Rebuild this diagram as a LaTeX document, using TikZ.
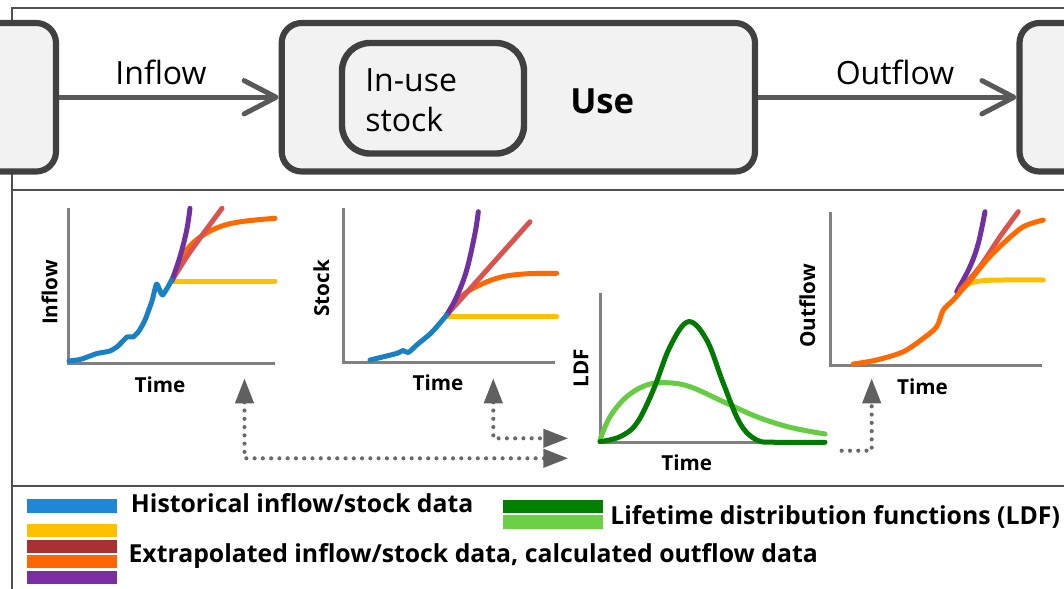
\documentclass[tikz,border=0pt]{standalone}
\usepackage{fontspec}
\setmainfont{Open Sans}
\usetikzlibrary{arrows.meta}
\definecolor{boxline}{HTML}{404040}
\definecolor{boxfill}{HTML}{F2F2F2}
\definecolor{flowgray}{HTML}{595959}
\definecolor{framegray}{HTML}{505050}
\definecolor{axisgray}{HTML}{808080}
\definecolor{dotgray}{HTML}{6A6A6A}
\definecolor{tipgray}{HTML}{606060}
\definecolor{cblue}{HTML}{1A80C4}
\definecolor{cyellow}{HTML}{FFC000}
\definecolor{cred}{HTML}{D9534F}
\definecolor{corange}{HTML}{FF6A00}
\definecolor{cpurple}{HTML}{7030A0}
\definecolor{cdgreen}{HTML}{007A00}
\definecolor{clgreen}{HTML}{66CC44}
\definecolor{lblue}{HTML}{1E88D6}
\definecolor{lred}{HTML}{A83232}
\definecolor{lorange}{HTML}{FF6600}
\definecolor{lpurple}{HTML}{7A2EA0}
\definecolor{ldgreen}{HTML}{008000}
\definecolor{llgreen}{HTML}{6CD044}
\begin{document}
\begin{tikzpicture}[x=0.75pt,y=-0.75pt,
  frame/.style={draw=framegray,line width=1.5pt},
  bigbox/.style={draw=boxline,fill=boxfill,line width=4.6pt,rounded corners=15pt,minimum height=111.4pt,inner sep=0pt},
  innerbox/.style={draw=boxline,fill=boxfill,line width=4.8pt,rounded corners=21pt,minimum width=136.5pt,minimum height=82.9pt,inner sep=0pt},
  flow/.style={draw=flowgray,line width=3.75pt,-{Straight Barb[length=24pt,width=25pt,line cap=round,line join=round]}},
  flowlabel/.style={font=\fontsize{24pt}{30pt}\selectfont,anchor=base,inner sep=0pt},
  axis/.style={draw=axisgray,line width=2.25pt},
  curve/.style={line width=3.75pt,line cap=round,line join=round},
  glabel/.style={font=\fontsize{15.5pt}{18pt}\selectfont\bfseries,anchor=base,inner sep=0pt},
  legtext/.style={font=\fontsize{18.6pt}{22pt}\selectfont\bfseries,anchor=base west,inner sep=0pt},
  dotarrow/.style={draw=dotgray,line width=3.1pt,line cap=round,dash pattern=on 0pt off 6.2pt,
    >={Triangle[length=18.75pt,width=13.5pt,color=tipgray]}}
]
\useasboundingbox (0,0) rectangle (1064,589);
\clip (0,0) rectangle (1064,589);
\fill[white] (0,0) rectangle (1064,589);

% frame
\draw[frame] (11.7,589) -- (11.7,8.3) -- (1064,8.3);
\draw[frame] (11.7,189.5) -- (1064,189.5);
\draw[frame] (11.7,486) -- (1064,486);

% top row
\node[bigbox,minimum width=117pt] (src) at (-22,97.25) {};
\node[bigbox,minimum width=355pt] (use) at (518.35,97.25) {};
\node[bigbox,minimum width=120.4pt] (sink) at (1099.75,97.25) {};
\node[innerbox] (stock) at (433,98.25) {};
\node[font=\fontsize{24pt}{30pt}\selectfont,align=left,anchor=west,inner sep=0pt] (stocktext) at (365,100) {In-use\\stock};
\node[font=\fontsize{26pt}{30pt}\selectfont\bfseries,anchor=base west,inner sep=0pt] (usetext) at (570,113) {Use};
\draw[flow] (src.east) -- (use.west);
\draw[flow] (use.east) -- (sink.west);
\node[flowlabel] (inflowlbl) at (161,84) {Inflow};
\node[flowlabel] (outflowlbl) at (895,84) {Outflow};

% graph 1: inflow
\draw[axis] (68,208.3) -- (68,363.3) -- (275,363.3);
\draw[curve,cyellow] (171.7,281) -- (275,281);
\draw[curve,corange] plot[smooth,tension=0.6] coordinates {(171.7,281) (186.7,250) (206.7,233) (233,223) (275,218.3)};
\draw[curve,cred] plot[smooth,tension=0.5] coordinates {(171.7,281) (190,252) (222,208.3)};
\draw[curve,cpurple] plot[smooth,tension=0.6] coordinates {(171.7,281) (180,256.7) (186.7,230) (190,208.3)};
\draw[curve,cblue] plot[smooth,tension=0.35] coordinates {(69,361) (80,359.5) (90,356) (97,353.5) (110,351) (118,346) (127,337) (133,337) (139,331) (145,320) (152,301) (156.7,284) (162.5,295) (171.7,280)};
\node[glabel,rotate=90] (g1y) at (57.3,292.5) {Inflow};
\node[glabel] (g1x) at (160,392.7) {Time};

% graph 2: stock
\draw[axis] (343.3,208.3) -- (343.3,362.7) -- (555,362.7);
\draw[curve,cyellow] (446.7,316.7) -- (556.7,316.7);
\draw[curve,corange] plot[smooth,tension=0.6] coordinates {(446.7,315) (456.7,301.7) (470,290) (496.7,278.3) (523.3,274) (556.7,273.3)};
\draw[curve,cred] (446.7,315) -- (530,221.7);
\draw[curve,cpurple] plot[smooth,tension=0.6] coordinates {(446.7,315) (456.7,296.7) (466.7,270) (475,233.3) (478.3,211.7)};
\draw[curve,cblue] plot[smooth,tension=0.4] coordinates {(370,360) (386.7,356) (398,353) (403.3,350.5) (408.3,352.5) (416.7,345) (430,334) (438.3,325) (446.7,315)};
\node[glabel,rotate=90] (g2y) at (329,288.3) {Stock};
\node[glabel] (g2x) at (438,390) {Time};

% graph 3: LDF
\draw[axis] (600,293.3) -- (600,442.3) -- (825,442.3);
\draw[curve,clgreen] plot[smooth,tension=0.6] coordinates {(600,440) (610,416.7) (626.7,396.7) (646.7,385) (666.7,382.7) (690,386.7) (723.3,401.7) (756.7,416.7) (790,427.3) (825,434)};
\draw[curve,cdgreen] plot[smooth,tension=0.6] coordinates {(600,441.7) (620,436.7) (636.7,423.3) (653.3,390) (670,346.7) (688.3,321.7) (706.7,340) (723.3,383.3) (740,423.3) (756.7,440) (776.7,442.3) (825,442.3)};
\node[glabel,rotate=90] (g3y) at (588.3,368.3) {LDF};
\node[glabel] (g3x) at (686.7,470) {Time};

% graph 4: outflow
\draw[axis] (830.7,211.7) -- (830.7,365.7) -- (1041.7,365.7);
\draw[curve,cyellow] plot[smooth,tension=0.6] coordinates {(958.3,291.7) (970,283.3) (983.3,280.7) (1003.3,280) (1043.3,280)};
\draw[curve,cpurple] plot[smooth,tension=0.6] coordinates {(956.7,291.7) (970,266.7) (978.3,243.3) (985,211.7)};
\draw[curve,cred] plot[smooth,tension=0.6] coordinates {(960,290) (980,266.7) (1000,236.7) (1018.3,211.7)};
\draw[curve,corange] plot[smooth,tension=0.5] coordinates {(853.3,364) (876.7,360) (903.3,351.7) (923.3,338.3) (936.7,326.7) (943.3,310) (953.3,300) (963.3,288.3) (973.3,276.7) (986.7,260) (1003.3,243.3) (1023.3,226.7) (1043.3,220)};
\node[glabel,rotate=90] (g4y) at (815,305.8) {Outflow};
\node[glabel] (g4x) at (922.5,394) {Time};

% dotted connectors
\coordinate (g1tip) at (244.5,378.3);
\coordinate (g2tip) at (493.3,378.3);
\coordinate (ldfinA) at (568.3,458.3);
\coordinate (ldfinB) at (568.3,438.3);
\coordinate (ldfout) at (841.7,450.7);
\coordinate (g4tip) at (871.7,378.3);
\draw[dotarrow,<->] (g1tip) |- (ldfinA);
\draw[dotarrow,<->] (g2tip) |- (ldfinB);
\draw[dotarrow,->] (ldfout) -| (g4tip);

% legend
\fill[lblue] (26.7,498.5) rectangle (117.3,512.5);
\fill[cyellow] (26.7,524) rectangle (117.3,537);
\fill[lred] (26.7,539.5) rectangle (117.3,552.5);
\fill[lorange] (26.7,555) rectangle (117.3,568);
\fill[lpurple] (26.7,570.5) rectangle (117.3,583.5);
\fill[ldgreen] (503,499.5) rectangle (603,513);
\fill[llgreen] (503,515) rectangle (603,528.5);
\node[legtext] (leg1) at (130.7,512.3) {Historical inflow/stock data};
\node[legtext] (leg2) at (128.3,562.7) {Extrapolated inflow/stock data, calculated outflow data};
\node[legtext] (leg3) at (610,524) {Lifetime distribution functions (LDF)};
\end{tikzpicture}
\end{document}
